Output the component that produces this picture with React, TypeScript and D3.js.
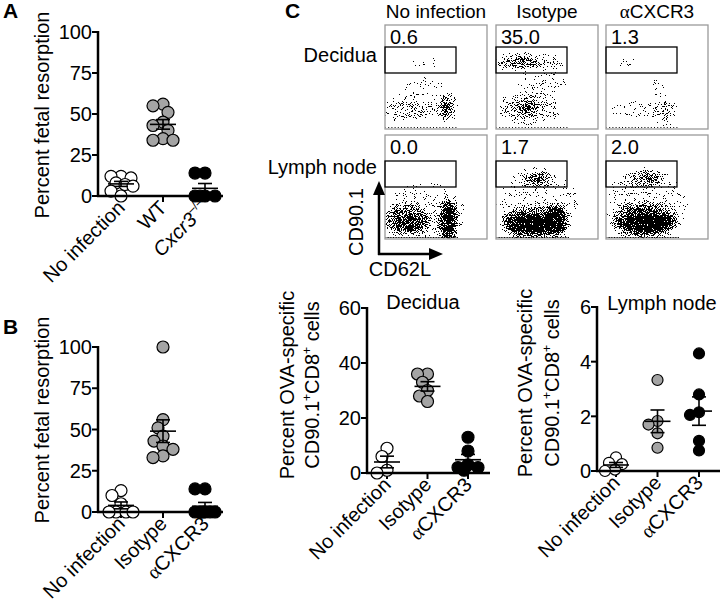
import * as d3 from "d3";

const FONT = "'Liberation Sans', Arial, Helvetica, sans-serif";
const GRAY = "#a4a4a4";
const FS = 20;

// ---- panel A : percent fetal resorption ----
const catsA = ["No infection", "WT", "Cxcr3"];
const noInfA = [12, 12, 11, 8, 7, 6, 3, 0];
const wtA = [56, 55, 51, 45, 43, 40, 35, 34, 34];
const cxcr3A = [14, 14, 0, 0, 0, 0];
const ticksA = [0, 25, 50, 75, 100];

// ---- panel B ----
const catsB = ["No infection", "Isotype", "αCXCR3"];
const noInfB = [13, 10, 5, 0, 0, 0, 0];
const isoB = [100, 56, 51, 46, 43, 40, 38, 34, 33];
const antiB = [14, 14, 0, 0, 0, 0, 0, 0];

// ---- panel C bottom : decidua / lymph node ----
const noInfDec = [9, 6, 1, 0];
const isoDec = [36, 36, 33, 30, 28, 26];
const antiDec = [13, 8, 3, 2, 2, 1];
const ticksDec = [0, 20, 40, 60];

const noInfLN = [0.5, 0.3, 0.25, 0.05, 0.0];
const isoLN = [3.33, 1.83, 1.7, 1.38, 0.85];
const antiLN = [4.3, 2.8, 2.15, 2.05, 1.1, 0.75];
const ticksLN = [0, 2, 4, 6];

const fills = ["#fff", GRAY, "#000"];

// ---- panel C flow plots ----
const flowCols = ["No infection", "Isotype", "αCXCR3"];
const flowRows = ["Decidua", "Lymph node"];
const gateDec = [0.6, 35.0, 1.3];
const gateLN = [0.0, 1.7, 2.0];
// density levels -> opacity of the density map
const levels = [0, 0.12, 0.3, 0.58, 0.92];
// clouds: [cx, cy, rx, ry, density level] in box fractions
const cloudDecNoInf = [[0.24, 0.8, 0.25, 0.12, 2], [0.6, 0.79, 0.08, 0.12, 3], [0.6, 0.78, 0.04, 0.05, 4], [0.4, 0.6, 0.22, 0.1, 1], [0.4, 0.36, 0.14, 0.06, 1]];
const cloudDecIso = [[0.22, 0.36, 0.22, 0.07, 3], [0.5, 0.37, 0.16, 0.07, 2], [0.32, 0.8, 0.3, 0.14, 2], [0.3, 0.79, 0.1, 0.08, 3], [0.45, 0.57, 0.25, 0.1, 1]];
const cloudDecAnti = [[0.58, 0.83, 0.1, 0.12, 2], [0.3, 0.82, 0.26, 0.1, 1], [0.2, 0.35, 0.1, 0.06, 1], [0.5, 0.6, 0.1, 0.1, 1]];
const cloudLNNoInf = [[0.22, 0.82, 0.24, 0.14, 3], [0.24, 0.86, 0.12, 0.07, 3], [0.62, 0.82, 0.09, 0.2, 4], [0.4, 0.72, 0.38, 0.26, 1]];
const cloudLNIso = [[0.38, 0.84, 0.33, 0.15, 3], [0.36, 0.86, 0.24, 0.1, 4], [0.6, 0.82, 0.1, 0.15, 4], [0.4, 0.42, 0.19, 0.1, 2], [0.4, 0.42, 0.08, 0.05, 3], [0.4, 0.65, 0.42, 0.3, 1]];
const cloudLNAnti = [[0.38, 0.82, 0.33, 0.17, 3], [0.4, 0.84, 0.25, 0.1, 4], [0.38, 0.42, 0.2, 0.1, 2], [0.42, 0.42, 0.08, 0.05, 3], [0.4, 0.65, 0.42, 0.3, 1]];

function swarm(vals: number[], y: (v: number) => number, r: number, maxOff: number) {
  const placed: { x: number; y: number }[] = [];
  vals.forEach((v) => {
    const py = y(v);
    let best = 0, bestD = -1;
    for (let k = 0; k <= maxOff * 2; k++) {
      const off = k % 2 === 0 ? k / 2 : -(k + 1) / 2;
      const d = placed.length ? d3.min(placed, (p) => Math.hypot(p.x - off, p.y - py))! : 99;
      if (d >= 2 * r * 0.8) { best = off; bestD = d; break; }
      if (d > bestD) { bestD = d; best = off; }
    }
    placed.push({ x: best, y: py });
  });
  return placed;
}

function DotPlot(props: any) {
  const { x0, xEnd, yTop, yBot, max, ticks, cats, catRange, series, r, labels } = props;
  const y = d3.scaleLinear().domain([0, max]).range([yBot, yTop]);
  const x = d3.scalePoint<string>().domain(cats).range(catRange);
  return (
    <g fontFamily={FONT}>
      {ticks.map((t: number) => (
        <g key={t}>
          <line x1={x0 - 6} x2={x0} y1={y(t)} y2={y(t)} stroke="#000" strokeWidth={2} />
          <text x={x0 - 6} y={y(t)} dy="0.36em" textAnchor="end" fontSize={FS}>{t}</text>
        </g>
      ))}
      {cats.map((c: string) => (
        <line key={c} x1={x(c)} x2={x(c)} y1={yBot} y2={yBot + 6} stroke="#000" strokeWidth={2} />
      ))}
      {series.map((vals: number[], i: number) => {
        const cx = x(cats[i])!;
        const pts = swarm(vals, y, r, 12);
        return pts.map((p, j) => (
          <circle key={i + "-" + j} cx={cx + p.x} cy={p.y} r={r} fill={fills[i]} stroke="#000" strokeWidth={1.2} />
        ));
      })}
      {series.map((vals: number[], i: number) => {
        const cx = x(cats[i])!;
        const m = d3.mean(vals)!;
        const sem = d3.deviation(vals)! / Math.sqrt(vals.length);
        return (
          <g key={"e" + i} stroke="#000" strokeWidth={1.6}>
            <line x1={cx - 13} x2={cx + 13} y1={y(m)} y2={y(m)} />
            <line x1={cx} x2={cx} y1={y(m - sem)} y2={y(m + sem)} />
            <line x1={cx - 7} x2={cx + 7} y1={y(m + sem)} y2={y(m + sem)} />
            <line x1={cx - 7} x2={cx + 7} y1={y(m - sem)} y2={y(m - sem)} />
          </g>
        );
      })}
      <line x1={x0} x2={x0} y1={yTop - 1} y2={yBot + 1} stroke="#000" strokeWidth={2.5} />
      <line x1={x0 - 1} x2={xEnd} y1={yBot} y2={yBot} stroke="#000" strokeWidth={2.5} />
      {cats.map((c: string, i: number) => (
        <text key={"l" + c} transform={`translate(${x(c)! + 5},${yBot + 13}) rotate(-45)`} textAnchor="end" fontSize={FS}>
          {labels[i]}
        </text>
      ))}
    </g>
  );
}

const alpha = (rest: string) => (
  <>
    <tspan fontFamily="'Liberation Serif', serif">α</tspan>
    {rest}
  </>
);

const bLabels = ["No infection", "Isotype", alpha("CXCR3")];

function FlowBox({ left, top, w, h, gateTop, value, clouds, id, dense }: any) {
  return (
    <g>
      <clipPath id={id}>
        <rect x={left + 0.5} y={top + 0.5} width={w - 1} height={h - 1} />
      </clipPath>
      <g clipPath={`url(#${id})`}>
        <g filter="url(#speck)">
          {clouds.map((c: number[], i: number) => (
            <ellipse key={i} cx={left + c[0] * w} cy={top + c[1] * h} rx={c[2] * w} ry={c[3] * h} fill="#000" fillOpacity={levels[c[4]]} />
          ))}
        </g>
        <line x1={left} x2={left + w * 0.72} y1={top + h - 1.5} y2={top + h - 1.5} stroke="#000" strokeWidth={1.2} strokeDasharray={dense ? "1 0.6" : "1 2.2"} />
      </g>
      <rect x={left} y={top} width={w} height={h} fill="none" stroke="#9a9a9a" strokeWidth={1.3} />
      <rect x={left} y={top + gateTop} width={71} height={26} fill="none" stroke="#000" strokeWidth={1.3} />
      <text x={left + 5} y={top + 19} fontSize={FS}>{value.toFixed(1)}</text>
    </g>
  );
}

export default function App() {
  const boxLefts = [385, 496, 606];
  const rowTops = [25, 135];
  const boxW = 102, boxH = 104;
  const cloudsByRow = [[cloudDecNoInf, cloudDecIso, cloudDecAnti], [cloudLNNoInf, cloudLNIso, cloudLNAnti]];
  const gates = [gateDec, gateLN];
  const supLine = (
    <>
      CD90.1<tspan fontSize={12} dy={-8}>+</tspan><tspan dy={8}>CD8</tspan><tspan fontSize={12} dy={-8}>+</tspan><tspan dy={8}> cells</tspan>
    </>
  );
  return (
    <div style={{ position: "absolute", left: 0, top: 0 }}>
      <svg width={725} height={612} fontFamily={FONT} style={{ display: "block", background: "#fff" }}>
        <defs>
          <filter id="speck" filterUnits="userSpaceOnUse" x={375} y={15} width={345} height={235}>
            <feGaussianBlur in="SourceAlpha" stdDeviation={3} result="dens" />
            <feTurbulence type="fractalNoise" baseFrequency={1.1} numOctaves={1} seed={7} result="noise" />
            <feColorMatrix in="noise" type="matrix" values="0 0 0 0 0  0 0 0 0 0  0 0 0 0 0  1 0 0 0 0" result="na" />
            <feComponentTransfer in="na" result="ns">
              <feFuncA type="linear" slope={2.6} intercept={-0.8} />
            </feComponentTransfer>
            <feComposite in="dens" in2="ns" operator="arithmetic" k1={0} k2={1} k3={-1} k4={0.44} result="diff" />
            <feComponentTransfer in="diff" result="mask">
              <feFuncA type="discrete" tableValues="0 1" />
            </feComponentTransfer>
            <feFlood floodColor="#000" result="ink" />
            <feComposite in="ink" in2="mask" operator="in" />
          </filter>
        </defs>

        {/* panel letters */}
        <text x={3} y={18} fontSize={21} fontWeight="bold">A</text>
        <text x={3} y={334} fontSize={21} fontWeight="bold">B</text>
        <text x={285} y={18} fontSize={21} fontWeight="bold">C</text>

        {/* A */}
        <text transform="translate(42,115) rotate(-90)" textAnchor="middle" dy="0.35em" fontSize={FS}>Percent fetal resorption</text>
        <DotPlot x0={98} xEnd={223} yTop={32} yBot={196} max={100} ticks={ticksA} cats={catsA} catRange={[121, 205]}
          series={[noInfA, wtA, cxcr3A]} r={6}
          labels={["No infection", "WT", <><tspan fontStyle="italic">Cxcr3</tspan><tspan fontSize={12} dy={-9}>–/–</tspan></>]} />

        {/* B */}
        <text transform="translate(42,420) rotate(-90)" textAnchor="middle" dy="0.35em" fontSize={FS}>Percent fetal resorption</text>
        <DotPlot x0={98} xEnd={223} yTop={347} yBot={512} max={100} ticks={ticksA} cats={catsB} catRange={[121, 205]}
          series={[noInfB, isoB, antiB]} r={6} labels={bLabels} />

        {/* C flow headers */}
        {flowCols.map((c, i) => (
          <text key={c} x={boxLefts[i] + boxW / 2} y={18} textAnchor="middle" fontSize={19}>
            {i === 2 ? alpha("CXCR3") : c}
          </text>
        ))}
        {flowRows.map((rw, j) => (
          <text key={rw} x={377} y={rowTops[j] + (j === 0 ? 30 : 32)} dy="0.35em" textAnchor="end" fontSize={FS}>{rw}</text>
        ))}
        {rowTops.map((top, j) =>
          boxLefts.map((left, i) => (
            <FlowBox key={j + "-" + i} id={`clip${j}${i}`} left={left} top={top} w={boxW} h={boxH}
              gateTop={j === 0 ? 22 : 26} value={gates[j][i]} clouds={cloudsByRow[j][i]} dense={j === 1} />
          ))
        )}
        {/* axes arrows */}
        <g stroke="#000" strokeWidth={2.5}>
          <line x1={379} x2={379} y1={255} y2={192} />
          <line x1={378} x2={431} y1={254} y2={254} />
        </g>
        <polygon points="379,181 373,195 385,195" fill="#000" />
        <polygon points="443,254 429,248 429,260" fill="#000" />
        <text transform="translate(356,222) rotate(-90)" textAnchor="middle" dy="0.35em" fontSize={FS}>CD90.1</text>
        <text x={400} y={269} textAnchor="middle" dy="0.35em" fontSize={FS}>CD62L</text>

        {/* C bottom: decidua */}
        <text x={423} y={302} textAnchor="middle" dy="0.35em" fontSize={FS}>Decidua</text>
        <text transform="translate(287,385) rotate(-90)" textAnchor="middle" dy="0.35em" fontSize={FS}>Percent OVA-specific</text>
        <text transform="translate(312,385) rotate(-90)" textAnchor="middle" dy="0.35em" fontSize={FS}>{supLine}</text>
        <DotPlot x0={367} xEnd={490} yTop={308} yBot={473} max={60} ticks={ticksDec} cats={catsB} catRange={[387, 468]}
          series={[noInfDec, isoDec, antiDec]} r={6} labels={bLabels} />

        {/* C bottom: lymph node */}
        <text x={662} y={303} textAnchor="middle" dy="0.35em" fontSize={FS}>Lymph node</text>
        <text transform="translate(525,383) rotate(-90)" textAnchor="middle" dy="0.35em" fontSize={FS}>Percent OVA-specific</text>
        <text transform="translate(552,383) rotate(-90)" textAnchor="middle" dy="0.35em" fontSize={FS}>{supLine}</text>
        <DotPlot x0={597} xEnd={720} yTop={307} yBot={471} max={6} ticks={ticksLN} cats={catsB} catRange={[616, 699]}
          series={[noInfLN, isoLN, antiLN]} r={5.5} labels={bLabels} />
      </svg>
    </div>
  );
}
